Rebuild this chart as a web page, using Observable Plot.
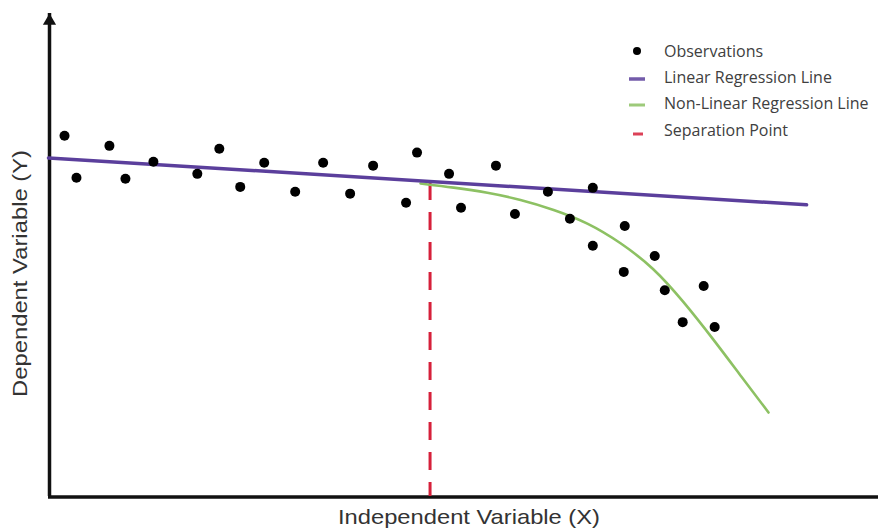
<!DOCTYPE html>
<html>
<head>
<meta charset="utf-8">
<script src="https://cdn.jsdelivr.net/npm/d3@7"></script>
<script src="https://cdn.jsdelivr.net/npm/@observablehq/plot@0.6"></script>
<style>
  html, body { margin: 0; padding: 0; background: #fff; }
  #chart { width: 878px; height: 529px; }
</style>
</head>
<body>
<div id="chart"></div>
<script>
// Observations (x, y in chart units)
const obsX = [1.93, 3.37, 7.34, 9.27, 12.64, 17.93, 20.58, 23.10, 25.99, 29.72,
              33.09, 36.34, 39.11, 43.08, 44.40, 48.26, 49.70, 53.91, 56.20, 60.17,
              62.82, 65.58, 65.58, 69.43, 69.31, 73.04, 74.25, 78.94, 76.41, 80.26];
const obsY = [74.7, 66.0, 72.6, 65.8, 69.3, 66.8, 72.0, 64.1, 69.1, 63.1,
              69.1, 62.7, 68.5, 60.8, 71.2, 66.8, 59.8, 68.5, 58.5, 63.1,
              57.5, 63.9, 51.9, 56.0, 46.5, 49.8, 42.7, 43.6, 36.1, 35.1];

// Linear regression line (end points)
const linX = [0, 91.34];
const linY = [70.1, 60.4];

// Non-linear regression curve
const curveX = [44.82, 48.80, 52.89, 56.87, 60.84, 64.94, 68.92, 72.89, 76.51, 80.12, 83.37, 86.75];
const curveY = [64.80, 63.98, 62.94, 61.49, 59.42, 56.73, 52.60, 47.41, 40.37, 32.51, 25.05, 17.39];

// Separation point
const sepX = 45.97;
const sepY = 65.0;

// Texts
const xTitle = "Independent Variable (X)";
const yTitle = "Dependent Variable (Y)";
const legendLabels = ["Observations", "Linear Regression Line", "Non-Linear Regression Line", "Separation Point"];

const colPurple = "#5b3f9c";
const colGreen = "#8dc163";
const colRed = "#d6203a";

const obs = obsX.map((x, i) => ({x, y: obsY[i]}));
const lin = linX.map((x, i) => ({x, y: linY[i]}));
const curve = curveX.map((x, i) => ({x, y: curveY[i]}));

const chart = Plot.plot({
  width: 878,
  height: 529,
  marginLeft: 48,
  marginRight: 0,
  marginTop: 13,
  marginBottom: 33,
  x: {domain: [0, 100], axis: null},
  y: {domain: [0, 100], axis: null},
  style: {background: "#fff", overflow: "visible"},
  marks: [
    // axes
    Plot.ruleY([0], {x1: 0, x2: 100, stroke: "#111", strokeWidth: 3.5, dy: 0.5}),
    Plot.ruleX([0], {y1: 0, y2: 100, stroke: "#111", strokeWidth: 3.5, dx: 1}),
    Plot.dot([0], {x: 0, y: 100, symbol: "triangle", r: 4.9, fill: "#111", stroke: null, dx: 1, dy: 7.5}),
    // separation line
    Plot.ruleX([sepX], {y1: sepY, y2: 0, stroke: colRed, strokeWidth: 3, strokeDasharray: "18,12"}),
    // non-linear curve
    Plot.line(curve, {x: "x", y: "y", curve: "basis", stroke: colGreen, strokeWidth: 2.6}),
    // linear line
    Plot.line(lin, {x: "x", y: "y", stroke: colPurple, strokeWidth: 3.5}),
    // observations
    Plot.dot(obs, {x: "x", y: "y", r: 5, fill: "#000", stroke: null})
  ]
});

document.getElementById("chart").appendChild(chart);

// Titles and legend drawn into the same SVG
const svg = d3.select(chart);

svg.append("text")
  .attr("x", 469).attr("y", 524)
  .attr("text-anchor", "middle")
  .attr("font-family", "'Liberation Sans', Arial, sans-serif")
  .attr("font-size", 21)
  .attr("fill", "#333")
  .attr("textLength", 262)
  .attr("lengthAdjust", "spacingAndGlyphs")
  .text(xTitle);

svg.append("text")
  .attr("transform", "translate(27,273.5) rotate(-90)")
  .attr("text-anchor", "middle")
  .attr("font-family", "'Liberation Sans', Arial, sans-serif")
  .attr("font-size", 21)
  .attr("fill", "#333")
  .attr("textLength", 247)
  .attr("lengthAdjust", "spacingAndGlyphs")
  .text(yTitle);

const rowsY = [51.5, 77, 103, 130];
const lg = svg.append("g")
  .attr("font-family", "'Open Sans', sans-serif")
  .attr("font-size", 16)
  .attr("text-anchor", "start")
  .attr("fill", "#404040");

lg.append("circle").attr("cx", 637).attr("cy", 51).attr("r", 4).attr("fill", "#000");
lg.append("line").attr("x1", 629).attr("x2", 645).attr("y1", 79).attr("y2", 79)
  .attr("stroke", colPurple).attr("stroke-width", 3.5).attr("opacity", 0.85);
lg.append("line").attr("x1", 629).attr("x2", 645).attr("y1", 105).attr("y2", 105)
  .attr("stroke", colGreen).attr("stroke-width", 3).attr("opacity", 0.85);
lg.append("line").attr("x1", 633).attr("x2", 643).attr("y1", 134).attr("y2", 134)
  .attr("stroke", colRed).attr("stroke-width", 3).attr("opacity", 0.85);

legendLabels.forEach((t, i) => {
  lg.append("text").attr("x", 664).attr("y", rowsY[i]).attr("dy", "0.35em").text(t);
});
</script>
</body>
</html>
